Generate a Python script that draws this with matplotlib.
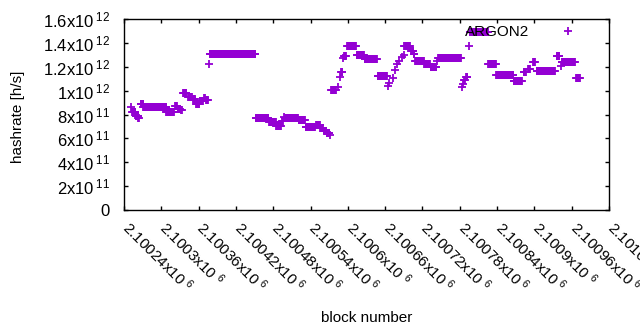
import matplotlib
matplotlib.use('Agg')
import matplotlib.pyplot as plt
import matplotlib.transforms as mtransforms
import numpy as np

plt.rcParams['font.family'] = ['Liberation Sans', 'DejaVu Sans']
plt.rcParams['mathtext.fontset'] = 'custom'
plt.rcParams['mathtext.rm'] = 'Liberation Sans'
plt.rcParams['mathtext.default'] = 'regular'

# runs of blocks sharing the same hashrate (first block, last block, h/s)
run_start = [2100251, 2100253, 2100259, 2100263, 2100267, 2100271, 2100308, 2100322,
             2100327, 2100332, 2100335, 2100343, 2100351, 2100356, 2100362, 2100369,
             2100372, 2100377, 2100378, 2100452, 2100473, 2100485, 2100494, 2100497,
             2100499, 2100521, 2100532, 2100549, 2100556, 2100562, 2100566, 2100571,
             2100573, 2100584, 2100587, 2100589, 2100592, 2100594, 2100599, 2100614,
             2100627, 2100648, 2100665, 2100666, 2100673, 2100676, 2100679, 2100682,
             2100687, 2100690, 2100691, 2100702, 2100706, 2100708, 2100723, 2100733,
             2100743, 2100745, 2100784, 2100785, 2100787, 2100790, 2100795, 2100796,
             2100826, 2100839, 2100867, 2100883, 2100890, 2100898, 2100904, 2100936,
             2100943, 2100944, 2100967]
run_end = [2100251, 2100258, 2100263, 2100264, 2100271, 2100308, 2100320, 2100325,
           2100330, 2100333, 2100340, 2100349, 2100354, 2100361, 2100367, 2100370,
           2100375, 2100377, 2100451, 2100472, 2100484, 2100492, 2100495, 2100497,
           2100520, 2100531, 2100547, 2100555, 2100560, 2100565, 2100570, 2100571,
           2100581, 2100584, 2100587, 2100591, 2100592, 2100597, 2100613, 2100626,
           2100647, 2100663, 2100665, 2100666, 2100673, 2100676, 2100679, 2100682,
           2100687, 2100690, 2100700, 2100705, 2100707, 2100722, 2100732, 2100742,
           2100743, 2100782, 2100784, 2100785, 2100788, 2100792, 2100795, 2100825,
           2100838, 2100866, 2100880, 2100886, 2100893, 2100901, 2100933, 2100940,
           2100943, 2100965, 2100973]
run_hashrate = [8.59e11, 8.21e11, 7.87e11, 7.72e11, 8.88e11, 8.59e11, 8.18e11, 8.75e11,
                8.50e11, 8.34e11, 9.78e11, 9.49e11, 9.30e11, 8.92e11, 9.13e11, 9.38e11,
                9.21e11, 1.22e12, 1.304e12, 7.68e11, 7.35e11, 7.06e11, 7.48e11, 7.83e11,
                7.68e11, 7.54e11, 6.98e11, 7.12e11, 6.84e11, 6.64e11, 6.41e11, 6.28e11,
                1.009e12, 1.033e12, 1.114e12, 1.152e12, 1.273e12, 1.29e12, 1.374e12, 1.298e12,
                1.262e12, 1.122e12, 1.039e12, 1.064e12, 1.106e12, 1.173e12, 1.223e12, 1.248e12,
                1.282e12, 1.298e12, 1.374e12, 1.336e12, 1.307e12, 1.248e12, 1.22e12, 1.20e12,
                1.248e12, 1.271e12, 1.03e12, 1.055e12, 1.085e12, 1.114e12, 1.374e12, 1.489e12,
                1.22e12, 1.127e12, 1.081e12, 1.152e12, 1.181e12, 1.236e12, 1.167e12, 1.29e12,
                1.206e12, 1.242e12, 1.103e12]

x_ticks = [2100240, 2100300, 2100360, 2100420, 2100480, 2100540, 2100600,
           2100660, 2100720, 2100780, 2100840, 2100900, 2100960, 2101020]
x_ticklabels = ['2.10024', '2.1003', '2.10036', '2.10042', '2.10048', '2.10054', '2.1006',
                '2.10066', '2.10072', '2.10078', '2.10084', '2.1009', '2.10096', '2.10102']
y_ticks = [0, 2e11, 4e11, 6e11, 8e11, 1e12, 1.2e12, 1.4e12, 1.6e12]
y_ticklabels = ['0', r'$2x10\,^{11}$', r'$4x10\,^{11}$', r'$6x10\,^{11}$', r'$8x10\,^{11}$',
                r'$1x10\,^{12}$', r'$1.2x10\,^{12}$', r'$1.4x10\,^{12}$', r'$1.6x10\,^{12}$']

blocks = np.concatenate([np.arange(s, e + 1) for s, e in zip(run_start, run_end)])
rates = np.concatenate([np.full(e - s + 1, h) for s, e, h in zip(run_start, run_end, run_hashrate)])

fig = plt.figure(figsize=(6.4, 3.3), dpi=100)
ax = fig.add_axes([124/640, 1-210/330, 485/640, 191/330])

ax.plot(blocks, rates, '+', color='#9400d3', markersize=5.8, markeredgewidth=1.3,
        label='ARGON2')

ax.set_xlim(2100240, 2101020)
ax.set_ylim(0, 1.6e12)
ax.set_xticks(x_ticks)
ax.set_xticklabels([r'$%s x10\;^{6}$' % t for t in x_ticklabels], rotation=-45,
                   ha='left', va='top', rotation_mode='anchor', fontsize=11)
ax.set_yticks(y_ticks)
ax.set_yticklabels(y_ticklabels, fontsize=12)
ax.tick_params(direction='in', length=3, width=1, top=True, right=True, pad=10)
ax.tick_params(axis='x', pad=7)
for s in ax.spines.values():
    s.set_linewidth(1)

# nudge rotated labels so they start at the tick, as gnuplot does
shift = mtransforms.ScaledTranslation(0.08, 0.02, fig.dpi_scale_trans)
for lab in ax.get_xticklabels():
    lab.set_transform(lab.get_transform() + shift)

ax.set_xlabel('block number', fontsize=11)
ax.xaxis.set_label_coords(0.5, -0.53)
ax.set_ylabel('hashrate [h/s]', fontsize=11)
ax.yaxis.set_label_coords(-0.205, 0.49)

ax.legend(loc='upper right', bbox_to_anchor=(0.975, 1.0), frameon=False,
          markerfirst=False, numpoints=1, handlelength=3, handletextpad=1,
          borderaxespad=0, fontsize=11)

fig.savefig('out.png', dpi=100)
